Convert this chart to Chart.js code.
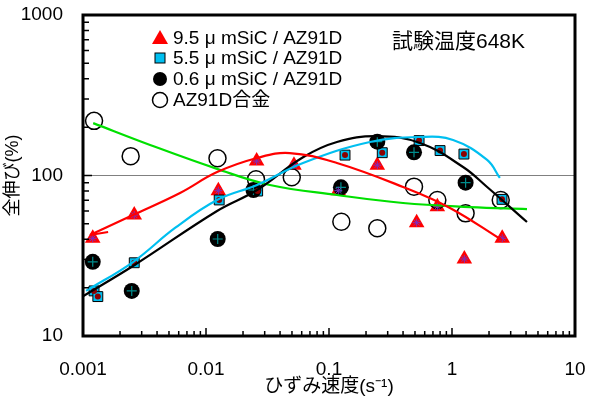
<!DOCTYPE html>
<html><head><meta charset="utf-8">
<script src="https://cdn.jsdelivr.net/npm/chart.js@4"></script>
<style>html,body{margin:0;padding:0;background:#fff}canvas{display:block}</style>
</head><body>
<canvas id="c" width="589" height="399"></canvas>
<script>
// ---- data ----
const xTickValues = [0.001, 0.01, 0.1, 1, 10];
const xTickLabels = ['0.001', '0.01', '0.1', '1', '10'];
const yTickValues = [10, 100, 1000];
const yTickLabels = ['10', '100', '1000'];
const seriesNames = ['9.5 μ mSiC / AZ91D', '5.5 μ mSiC / AZ91D', '0.6 μ mSiC / AZ91D', 'AZ91D合金'];
const noteText = '試験温度648K';
const xTitle = 'ひずみ速度(s⁻¹)';
const yTitle = '全伸び(%)';

// 9.5 um SiC (red triangles)
const triX = [0.0012, 0.00261, 0.0126, 0.0258, 0.0519, 0.119, 0.247, 0.516, 0.76, 1.26, 2.56];
const triY = [40.6, 56.7, 80.4, 123, 116, 80.4, 116, 50.8, 63.9, 30.2, 40.6];
// 5.5 um SiC (cyan squares)
const sqX = [0.00123, 0.00132, 0.00261, 0.0128, 0.0263, 0.135, 0.271, 0.54, 0.80, 1.25, 2.55];
const sqY = [19.1, 17.6, 28.6, 70.4, 80.0, 134, 138.7, 165, 143, 136, 71];
// 0.6 um SiC (black circles)
const dotX = [0.0012, 0.00249, 0.01245, 0.0243, 0.125, 0.247, 0.491, 1.29];
const dotY = [29.0, 19.1, 40.2, 81.2, 84.4, 162.5, 139.5, 90.2];
// AZ91D alloy (open circles)
const ringX = [0.00123, 0.00244, 0.0124, 0.0255, 0.0498, 0.126, 0.247, 0.491, 0.76, 1.29, 2.49];
const ringY = [219, 132, 128, 94.7, 97.5, 51.5, 46.9, 85.2, 70.4, 58.1, 70.4];

// fitted curves
const redFitX = [0.00114, 0.00255, 0.00615, 0.0123, 0.026, 0.048, 0.116, 0.40, 0.963, 2.55];
const redFitY = [42.6, 56.7, 77.8, 105, 128.5, 138, 119.7, 84.8, 62.8, 39.6];
const redHookX = [0.00114, 0.0016];
const redHookY = [42.6, 44.4];
const cyanFitX = [0.00106, 0.00255, 0.0056, 0.0123, 0.026, 0.0615, 0.215, 0.55, 1.02, 1.93, 2.45];
const cyanFitY = [19.1, 28.9, 47.1, 70.4, 87.3, 119.7, 161.7, 173.8, 166.4, 125, 96.5];
const blackFitX = [0.001, 0.00255, 0.0123, 0.026, 0.0615, 0.116, 0.245, 0.55, 1.23, 1.93, 4.07];
const blackFitY = [17.7, 27.3, 60.1, 81.2, 130, 161.7, 176, 159.5, 113, 84.8, 51.3];
const greenFitX = [0.00121, 0.00351, 0.0123, 0.0331, 0.116, 0.40, 1.40, 4.07];
const greenFitY = [212, 155, 110, 87.3, 75.6, 67.4, 63.6, 61.8];

// ---- helpers ----
const pts = (xs, ys) => xs.map((x, i) => ({x: x, y: ys[i]}));
const FONT = "'Liberation Sans', 'Noto Sans CJK JP', Arial, sans-serif";
Chart.defaults.font.family = FONT;
Chart.defaults.color = '#000';

const RED = '#ff0000', CYAN = '#00bff0', GREEN = '#00e000', PURPLE = '#7a2fc0', MAROON = '#8b0000', TEAL = '#008c8c';

function fitLine(xs, ys, color, order) {
  return {data: pts(xs, ys), showLine: true, borderColor: color, borderWidth: 2.2,
    pointRadius: 0, tension: 0.4, fill: false, order: order};
}

const framePlugin = {
  id: 'frame',
  afterDatasetsDraw(chart) {
    const {ctx, chartArea: a, scales} = chart;
    const xs = scales.x, ys = scales.y;
    ctx.save();
    ctx.strokeStyle = '#000';
    // inward tick marks
    ctx.lineWidth = 1.5;
    ctx.beginPath();
    for (let d = 10; d < 1000; d *= 10) {
      for (let m = 1; m <= 10; m++) {
        const v = d * m;
        const py = ys.getPixelForValue(v);
        const len = (m === 1 || m === 10) ? 9 : 6;
        ctx.moveTo(a.left, py); ctx.lineTo(a.left + len, py);
      }
    }
    for (let d = 0.001; d < 9; d *= 10) {
      for (let m = 1; m <= 10; m++) {
        const v = d * m;
        const px = xs.getPixelForValue(v);
        const len = (m === 1 || m === 10) ? 8 : 5;
        ctx.moveTo(px, a.bottom); ctx.lineTo(px, a.bottom - len);
      }
    }
    ctx.stroke();
    ctx.lineWidth = 3;
    ctx.strokeRect(a.left, a.top, a.right - a.left, a.bottom - a.top);
    ctx.restore();
  },
  afterDraw(chart) {
    const {ctx} = chart;
    ctx.save();
    // legend
    const mx = 160, tx = 173;
    const rows = [38, 58, 79, 100];
    ctx.font = '19px ' + FONT;
    ctx.textBaseline = 'middle';
    ctx.textAlign = 'left';
    ctx.fillStyle = '#000';
    seriesNames.forEach((s, i) => ctx.fillText(s, tx, rows[i] + 1));
    // triangle
    ctx.fillStyle = RED;
    ctx.beginPath();
    ctx.moveTo(mx, rows[0] - 8); ctx.lineTo(mx + 8, rows[0] + 6); ctx.lineTo(mx - 8, rows[0] + 6);
    ctx.closePath(); ctx.fill();
    // square
    ctx.fillStyle = CYAN; ctx.strokeStyle = '#000'; ctx.lineWidth = 1;
    ctx.fillRect(mx - 5, rows[1] - 5, 10, 10); ctx.strokeRect(mx - 5, rows[1] - 5, 10, 10);
    // filled circle
    ctx.fillStyle = '#000';
    ctx.beginPath(); ctx.arc(mx, rows[2], 7, 0, Math.PI * 2); ctx.fill();
    // open circle
    ctx.lineWidth = 1.5;
    ctx.beginPath(); ctx.arc(mx, rows[3], 7.5, 0, Math.PI * 2); ctx.stroke();
    // note
    ctx.fillStyle = '#000';
    ctx.font = '21px ' + FONT;
    ctx.fillText(noteText, 392, 42);
    ctx.restore();
  }
};

new Chart(document.getElementById('c'), {
  type: 'scatter',
  data: {
    datasets: [
      fitLine(redFitX, redFitY, RED, 0),
      {data: pts(redHookX, redHookY), showLine: true, borderColor: RED, borderWidth: 2,
        pointRadius: 0, tension: 0, fill: false, order: 0},
      fitLine(cyanFitX, cyanFitY, CYAN, 0),
      fitLine(blackFitX, blackFitY, '#000', 0),
      fitLine(greenFitX, greenFitY, GREEN, 0),
      // inner symbols
      {data: pts(triX, triY), pointStyle: 'star', pointRadius: 4, borderColor: PURPLE, borderWidth: 1, backgroundColor: PURPLE, order: 1},
      {data: pts(sqX, sqY), pointStyle: 'circle', pointRadius: 3, borderWidth: 0, backgroundColor: MAROON, order: 1},
      {data: pts(dotX, dotY), pointStyle: 'cross', pointRadius: 5, borderColor: TEAL, borderWidth: 1.2, order: 1},
      // markers
      {label: seriesNames[3], data: pts(ringX, ringY), pointStyle: 'circle', pointRadius: 8.5, borderColor: '#000', borderWidth: 1.5, backgroundColor: 'rgba(0,0,0,0)', order: 2},
      {label: seriesNames[2], data: pts(dotX, dotY), pointStyle: 'circle', pointRadius: 8, borderColor: '#000', borderWidth: 0, backgroundColor: '#000', order: 3},
      {label: seriesNames[1], data: pts(sqX, sqY), pointStyle: 'rect', pointRadius: 7, borderColor: '#000', borderWidth: 1, backgroundColor: CYAN, order: 4},
      {label: seriesNames[0], data: pts(triX, triY), pointStyle: 'triangle', pointRadius: 9, borderWidth: 0, backgroundColor: RED, order: 5}
    ]
  },
  options: {
    responsive: false,
    animation: false,
    events: [],
    layout: {padding: {top: 15, right: 14, left: 0, bottom: 0}},
    plugins: {legend: {display: false}, tooltip: {enabled: false}},
    scales: {
      x: {
        type: 'logarithmic', min: 0.001, max: 10,
        afterBuildTicks: s => { s.ticks = xTickValues.map(v => ({value: v})); },
        afterFit: s => { s.height = 63; },
        ticks: {font: {size: 19}, padding: 0, maxRotation: 0, autoSkip: false,
          callback: (v, i) => xTickLabels[i]},
        grid: {display: true, drawOnChartArea: false, drawTicks: true, tickLength: 22,
          tickColor: 'rgba(0,0,0,0)', color: 'rgba(0,0,0,0)'},
        border: {display: false},
        title: {display: true, text: xTitle, font: {size: 19}, padding: {top: 0, bottom: 1}}
      },
      y: {
        type: 'logarithmic', min: 10, max: 1000,
        afterBuildTicks: s => { s.ticks = yTickValues.map(v => ({value: v})); },
        afterFit: s => { s.width = 83; },
        ticks: {font: {size: 19}, padding: 0, autoSkip: false,
          callback: (v, i) => yTickLabels[i]},
        grid: {drawTicks: true, tickLength: 20, tickColor: 'rgba(0,0,0,0)', lineWidth: 1,
          color: c => (c.tick && c.tick.value === 100) ? '#808080' : 'rgba(0,0,0,0)'},
        border: {display: false},
        title: {display: true, text: yTitle, font: {size: 18}, padding: {top: 2, bottom: 0}}
      }
    }
  },
  plugins: [framePlugin]
});
</script>
</body></html>
